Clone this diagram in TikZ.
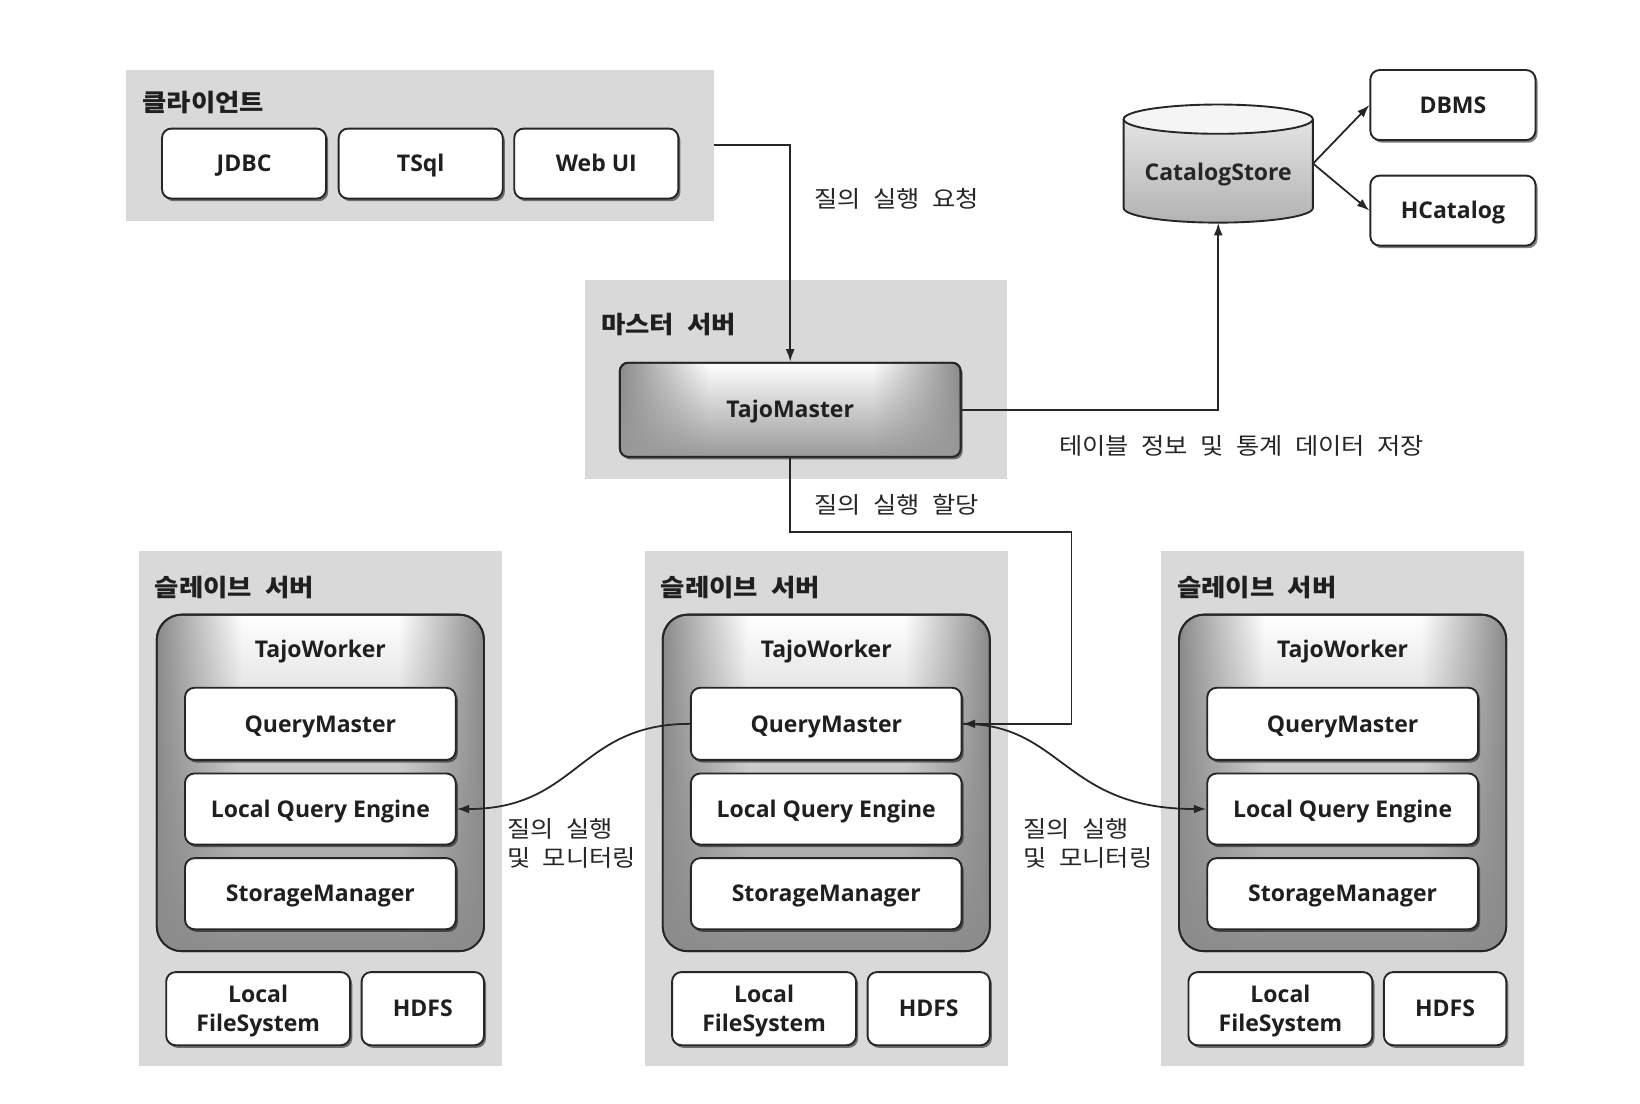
\documentclass[tikz,border=0pt]{standalone}
\usepackage{fontspec}
\setmainfont{Open Sans}
\newfontfamily\kr{Noto Sans CJK KR}[WordSpace=2.2, FakeStretch=1.1]
\usetikzlibrary{shadows,arrows.meta,fadings,calc}
\pgfdeclarehorizontalshading{edgewhite}{100bp}{color(0bp)=(black!46); color(25bp)=(black!46); color(38bp)=(white); color(62bp)=(white); color(75bp)=(black!46); color(100bp)=(black!46)}
\tikzfading[name=fadebottom, top color=transparent!100, bottom color=transparent!0]
\newcommand{\myboxfont}{\bfseries\fontsize{22}{28}\selectfont}
\newcommand{\mykrfont}{\kr\fontsize{22}{28}\selectfont}
\newcommand{\myhdfont}{\kr\bfseries\fontsize{23}{28}\selectfont}
\begin{document}
\begin{tikzpicture}[x=1pt,y=-1pt,
  grp/.style={fill=black!15, draw=none, inner sep=0pt},
  box/.style={draw=black!85, line width=1.8pt, fill=white, rounded corners=9pt, inner sep=0pt,
    font=\myboxfont, text=black!88, align=center, text height=15.7pt, text depth=0pt,
    drop shadow={shadow xshift=2pt, shadow yshift=-2.5pt, opacity=0.5, fill=black}},
  master/.style={draw=black!85, line width=1.8pt, rounded corners=8pt, inner sep=0pt,
    shade, shading=edgewhite, font=\myboxfont, text=black!88, text height=15.7pt, text depth=0pt,
    drop shadow={shadow xshift=2pt, shadow yshift=-2.5pt, opacity=0.5, fill=black},
    postaction={fill=black!40, path fading=fadebottom},
    postaction={draw=black!85, line width=1.8pt}},
  worker/.style={draw=black!85, line width=1.8pt, rounded corners=24pt, inner sep=0pt,
    shade, shading=edgewhite,
    postaction={fill=black!45, path fading=fadebottom},
    postaction={draw=black!85, line width=1.8pt}},
  lbl/.style={font=\myboxfont, text=black!88, inner sep=0pt, text height=15.7pt, text depth=0pt},
  hd/.style={font=\myhdfont, text=black!88, anchor=west, inner sep=0pt},
  kl/.style={font=\mykrfont, text=black!85, anchor=west, inner sep=0pt, align=left},
  arr/.style={draw=black!85, line width=1.7pt, -{Latex[length=12pt,width=8.5pt]}},
]
\useasboundingbox (0,0) rectangle (1569,1056);
\fill[white] (0,0) rectangle (1569,1056);

% client group
\node[grp, minimum width=562pt, minimum height=144pt] (cli) at (402,139) {};
\node[hd] (clih) at (136,98) {클라이언트};
\node[box, minimum width=157pt, minimum height=67pt] (jdbc) at (233.5,156.5) {JDBC};
\node[box, minimum width=157pt, minimum height=67pt] (tsql) at (402.5,156.5) {TSql};
\node[box, minimum width=157pt, minimum height=67pt] (webui) at (570.5,156.5) {Web UI};

% master group
\node[grp, minimum width=403pt, minimum height=190pt] (mst) at (761.5,363) {};
\node[hd] (msth) at (575,310) {마스터 서버};
\node[master, minimum width=326pt, minimum height=90pt] (tm) at (756,392) {TajoMaster};

% catalog store
\fill[top color=black!8, bottom color=black!30] (1075,114) -- (1075,199)
  arc[start angle=180, end angle=360, x radius=90.5pt, y radius=14pt] -- (1256,114)
  arc[start angle=0, end angle=180, x radius=90.5pt, y radius=14pt] -- cycle;
\draw[black!85, line width=1.8pt] (1075,114) -- (1075,199)
  arc[start angle=180, end angle=360, x radius=90.5pt, y radius=14pt] -- (1256,114);
\draw[black!85, line width=1.8pt, fill=black!4] (1165.5,114) ellipse [x radius=90.5pt, y radius=14pt];
\node[inner sep=0pt, minimum width=181pt, minimum height=113pt] (cat) at (1165.5,156.5) {};
\node[lbl, text=black!85] (catl) at (1165.5,165) {CatalogStore};

\node[box, minimum width=158pt, minimum height=67pt] (dbms) at (1390,100.5) {DBMS};
\node[box, minimum width=158pt, minimum height=67pt] (hcat) at (1390,201.5) {HCatalog};

% slave servers
\foreach \dx/\i in {0/1,484/2,978/3}{
  \node[grp, minimum width=347pt, minimum height=493pt] (sl\i) at (306.5+\dx,773.5) {};
  \node[hd] (slh\i) at (148+\dx,562) {슬레이브 서버};
  \node[worker, minimum width=313pt, minimum height=322pt] (tw\i) at (306.5+\dx,749) {};
  \node[lbl] (twl\i) at (306.5+\dx,621) {TajoWorker};
  \node[box, minimum width=259pt, minimum height=69pt] (qm\i) at (306.5+\dx,692.5) {QueryMaster};
  \node[box, minimum width=259pt, minimum height=68pt] (lqe\i) at (306.5+\dx,774) {Local Query Engine};
  \node[box, minimum width=259pt, minimum height=68pt] (sm\i) at (306.5+\dx,855) {StorageManager};
  \node[box, minimum width=176pt, minimum height=70pt, text height=43.7pt, text depth=0pt] (lfs\i) at (247+\dx,965) {Local\\FileSystem};
  \node[box, minimum width=117pt, minimum height=70pt] (hdfs\i) at (404.5+\dx,965) {HDFS};
}

% connectors
\draw[arr] (cli.east) -| (tm.north);
\node[kl] (l1) at (779,190) {질의 실행 요청};
\draw[arr] (tm.east) -| (cat.south);
\node[kl] (l2) at (1013,427) {테이블 정보 및 통계 데이터 저장};
\draw[arr] (cat.east) -- (dbms.west);
\draw[arr] (cat.east) -- (hcat.west);
\coordinate (turn) at (1025,509);
\draw[arr] (tm.south) |- (turn) |- (qm2.east);
\node[kl] (l3) at (779,483) {질의 실행 할당};
\draw[arr] (qm2.west) .. controls (553,692.5) and (553,774) .. (lqe1.east);
\draw[arr] (qm2.east) .. controls (1017,692.5) and (1017,774) .. (lqe3.west);
\node[kl] (l4) at (485,807) {질의 실행\\및 모니터링};
\node[kl] (l5) at (979,807) {질의 실행\\및 모니터링};
\end{tikzpicture}
\end{document}
